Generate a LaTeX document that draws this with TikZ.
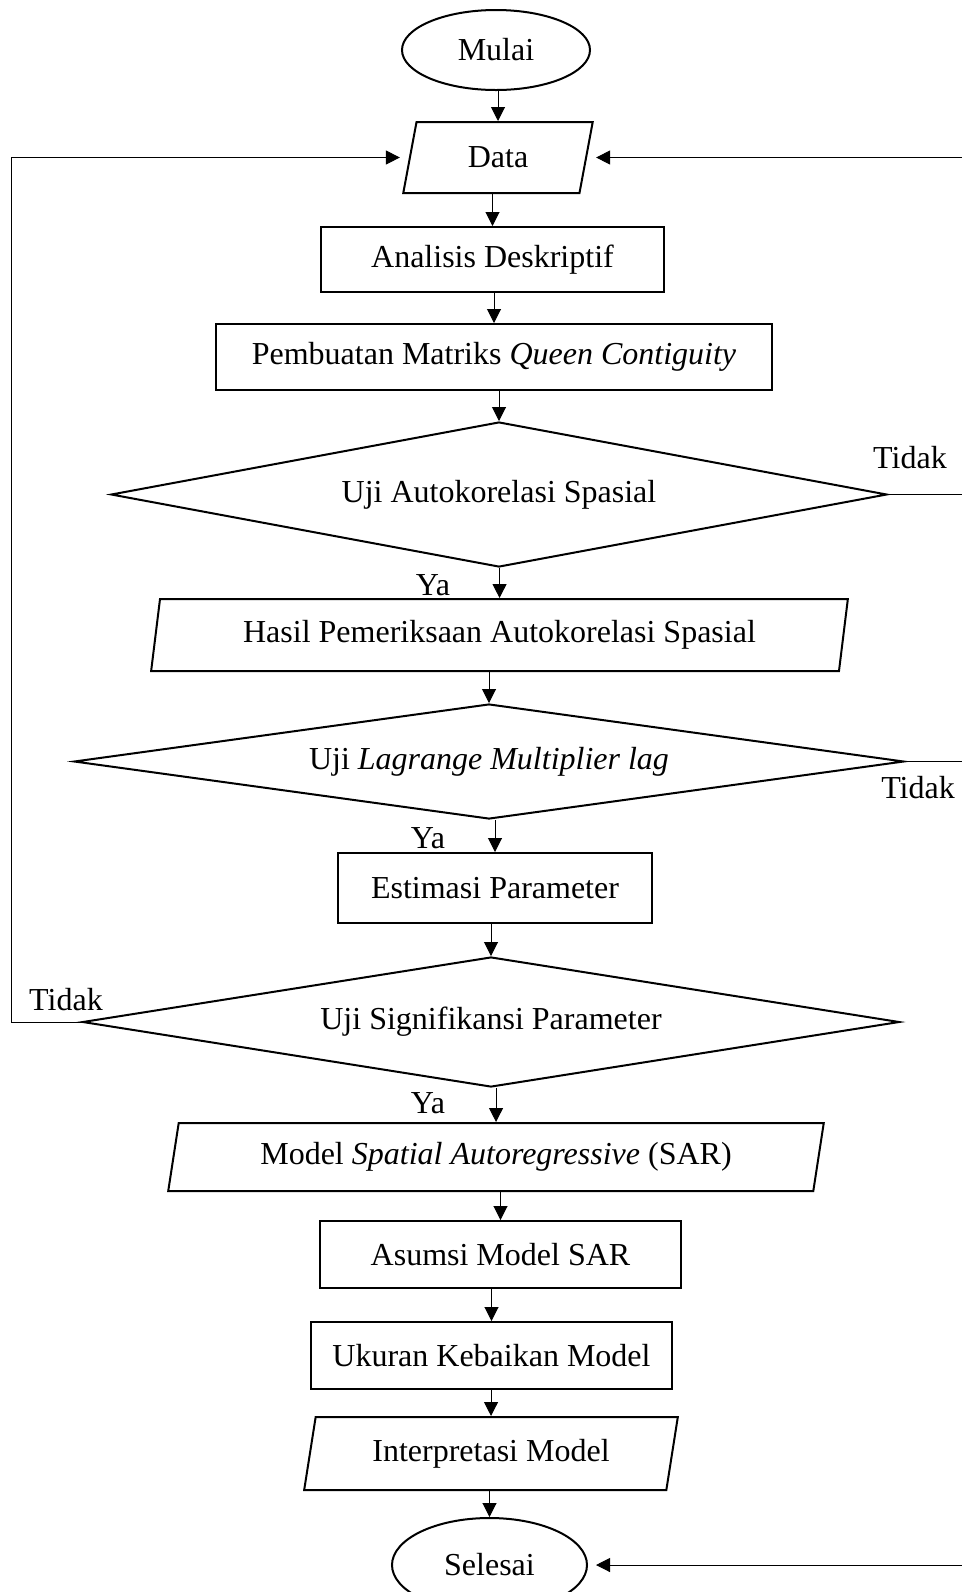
\documentclass[tikz,border=0pt]{standalone}
\usepackage{fontspec}
\setmainfont{Liberation Serif}
\usetikzlibrary{shapes.geometric,arrows.meta}

\begin{document}
\begin{tikzpicture}[x=0.5pt,y=-0.5pt,font=\fontsize{16}{19}\selectfont]
  \tikzset{
    terminal/.style={draw,ellipse,line width=1pt,inner sep=0pt},
    io/.style={draw,trapezium,trapezium left angle=77,trapezium right angle=103,
      trapezium stretches=true,line width=1pt,inner sep=0pt},
    proc/.style={draw,rectangle,line width=1pt,inner sep=0pt},
    decision/.style={draw,diamond,aspect=6,line width=1pt,inner sep=0pt},
    flow/.style={line width=0.5pt,-{Triangle[length=7pt,width=7pt]}},
    link/.style={line width=0.5pt}
  }
  \useasboundingbox (0,0) rectangle (962,1592);

  % Main column, top to bottom.
  \node[terminal,minimum width=94pt,minimum height=40pt] (mulai) at (496,50) {Mulai};
  \node[io,minimum width=95pt,minimum height=35.5pt] (data) at (498,157.5) {Data};
  \node[proc,minimum width=171.5pt,minimum height=32.5pt] (deskriptif) at (492.5,259.5) {Analisis Deskriptif};
  \node[proc,minimum width=278pt,minimum height=33pt] (matriks) at (494,357)
    {Pembuatan Matriks \textit{Queen Contiguity}};
  \node[decision,minimum width=388pt,minimum height=72.5pt] (ujimoran) at (499,494.5) {Uji Autokorelasi Spasial};
  \node[io,minimum width=348.5pt,minimum height=36pt] (hasil) at (499.5,635)
    {Hasil Pemeriksaan Autokorelasi Spasial};
  \node[decision,minimum width=415pt,minimum height=57.5pt] (ujilm) at (489,761.5)
    {Uji \textit{Lagrange Multiplier lag}};
  \node[proc,minimum width=157pt,minimum height=35pt] (estimasi) at (495,888) {Estimasi Parameter};
  \node[decision,minimum width=408.5pt,minimum height=65pt] (ujisig) at (491,1022) {Uji Signifikansi Parameter};
  \node[io,trapezium left angle=75,trapezium right angle=105,minimum width=328pt,minimum height=34pt] (sar) at (496,1157)
    {Model \textit{Spatial Autoregressive} (SAR)};
  \node[proc,minimum width=180.5pt,minimum height=33.5pt] (asumsi) at (500.5,1254.5) {Asumsi Model SAR};
  \node[proc,minimum width=180.5pt,minimum height=33.5pt] (kebaikan) at (491.5,1355.5) {Ukuran Kebaikan Model};
  \node[io,trapezium left angle=75,trapezium right angle=105,minimum width=187pt,minimum height=36.5pt] (interpretasi) at (491,1453.5)
    {Interpretasi Model};
  \node[terminal,minimum width=97.5pt,minimum height=47pt] (selesai) at (489.5,1565) {Selesai};

  % Branch labels.
  \node (tidakmoran) at (910,458) {Tidak};
  \node (tidaklm) at (918,788) {Tidak};
  \node (tidaksig) at (66,1000) {Tidak};
  \node (yamoran) at (433,585) {Ya};
  \node (yalm) at (428,838) {Ya};
  \node (yasig) at (428,1103) {Ya};

  % Side rails for the loops.
  \coordinate (kiri) at (11,0);
  \coordinate (kanan) at (963,0);

  \draw[flow] (data.north |- mulai.south) -- (data.north);
  \draw[flow] (deskriptif.north |- data.south) -- (deskriptif.north);
  \draw[flow] (matriks.north |- deskriptif.south) -- (matriks.north);
  \draw[flow] (ujimoran.north |- matriks.south) -- (ujimoran.north);
  \draw[flow] (hasil.north |- ujimoran.south) -- (hasil.north);
  \draw[flow] (ujilm.north |- hasil.south) -- (ujilm.north);
  \draw[flow] (estimasi.north |- ujilm.south) -- (estimasi.north);
  \draw[flow] (ujisig.north |- estimasi.south) -- (ujisig.north);
  \draw[flow] (sar.north |- ujisig.south) -- (sar.north);
  \draw[flow] (asumsi.north |- sar.south) -- (asumsi.north);
  \draw[flow] (kebaikan.north |- asumsi.south) -- (kebaikan.north);
  \draw[flow] (interpretasi.north |- kebaikan.south) -- (interpretasi.north);
  \draw[flow] (selesai.north |- interpretasi.south) -- (selesai.north);

  % Loops back.
  \draw[link] (ujimoran.east) -- (ujimoran.east -| kanan);
  \draw[link] (ujilm.east) -- (ujilm.east -| kanan);
  \draw[link] (kanan |- data.east) -- (kanan |- selesai.east);
  \draw[flow,shorten >=4.5pt] (kanan |- data.east) -- (data.east);
  \draw[flow,shorten >=4pt] (kanan |- selesai.east) -- (selesai.east);
  \draw[flow,shorten >=4.5pt] (ujisig.west) -- (kiri |- ujisig.west) -- (kiri |- data.west) -- (data.west);
\end{tikzpicture}
\end{document}
